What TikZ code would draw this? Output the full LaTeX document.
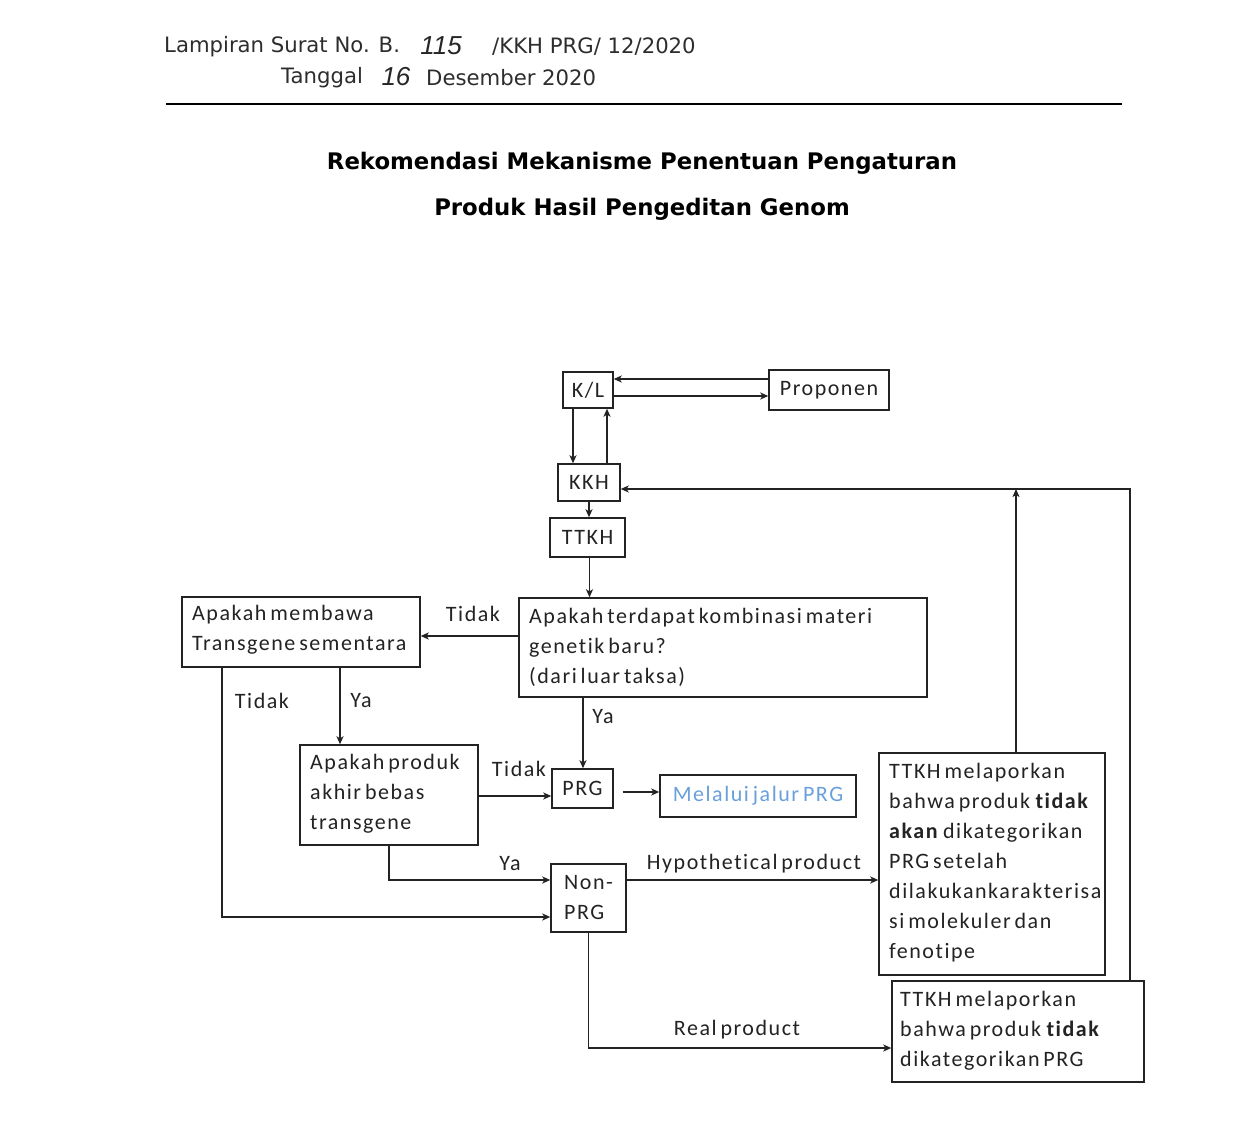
\documentclass[tikz,border=0pt]{standalone}
\usepackage{fontspec}
\setmainfont{Carlito}
\newfontfamily\diagf[LetterSpace=7,WordSpace=0.6,Ligatures=NoCommon]{Carlito}
\newfontfamily\hdrf{DejaVu Sans}
\newfontfamily\handf{Liberation Sans}
\usetikzlibrary{arrows.meta}
\definecolor{ink}{RGB}{35,35,35}
\definecolor{hdrink}{RGB}{45,45,45}
\definecolor{melblue}{RGB}{105,160,220}
\newcommand\dgfont{\diagf\fontsize{22}{30}\selectfont}
\newcommand\hdfont{\hdrf\fontsize{21.2}{25}\selectfont}
\newcommand\mytitlefont{\hdrf\bfseries\fontsize{22.8}{27}\selectfont}
\newcommand\handfont{\handf\itshape\fontsize{26}{30}\selectfont}
\begin{document}
\begin{tikzpicture}[x=1pt,y=-1pt,
  box/.style={draw=ink, line width=1.4pt, inner sep=0pt, font=\dgfont, text=ink},
  txt/.style={font=\dgfont, text=ink, inner sep=0pt, align=left, anchor=west},
  lbl/.style={font=\dgfont, text=ink, inner sep=0pt},
  conn/.style={draw=ink, line width=1.3pt, -{Stealth[length=8pt,width=7pt,inset=2pt]}},
  hdr/.style={font=\hdfont, text=hdrink, inner sep=0pt, anchor=west},
  hand/.style={font=\handfont, text=black!85, inner sep=0pt},
  ttl/.style={font=\mytitlefont, text=black, inner sep=0pt},
]
\useasboundingbox[fill=white] (0,0) rectangle (1254,1125);

% header
\node[hdr] (h1) at (164,47) {Lampiran Surat No. B.};
\node[hand] (h1n) at (441,46) {115};
\node[hdr] (h1b) at (492,47) {/KKH PRG/ 12/2020};
\node[hdr] (h2) at (281,78) {Tanggal};
\node[hand] (h2n) at (396,77) {16};
\node[hdr] (h2b) at (426,78) {Desember 2020};
\draw[black, line width=2.6pt] (166,104) -- (1122,104);

% title
\node[ttl] (t1) at (642,163) {Rekomendasi Mekanisme Penentuan Pengaturan};
\node[ttl] (t2) at (642,209) {Produk Hasil Pengeditan Genom};

% boxes
\node[box, minimum width=50, minimum height=36] (KL) at (588,390) {K/L};
\node[box, minimum width=120, minimum height=40] (Prop) at (829,390) {Proponen};
\node[box, minimum width=62, minimum height=37] (KKH) at (589,482.5) {KKH};
\node[box, minimum width=75, minimum height=39] (TTKH) at (587.5,537.5) {TTKH};

\node[box, minimum width=408, minimum height=99] (Q) at (723,647.5) {};
\node[txt] (Qt) at (529,647) {Apakah terdapat kombinasi materi\\genetik baru?\\(dari luar taksa)};

\node[box, minimum width=238, minimum height=70] (TR) at (301,632) {};
\node[txt] (TRt) at (192,630) {Apakah membawa\\Transgene sementara};

\node[box, minimum width=178, minimum height=100] (PD) at (389,795) {};
\node[txt] (PDt) at (310,794) {Apakah produk\\akhir bebas\\transgene};

\node[box, minimum width=61, minimum height=39] (PRG) at (582.5,788.5) {PRG};
\node[box, minimum width=196, minimum height=42, text=melblue] (MEL) at (758,796) {Melalui jalur PRG};

\node[box, minimum width=75, minimum height=68, align=left] (NP) at (588.5,898) {Non-\\PRG};

\node[box, minimum width=226, minimum height=222] (T1) at (992,864) {};
\node[txt] (T1t) at (889,863) {TTKH melaporkan\\bahwa produk \textbf{tidak}\\\textbf{akan} dikategorikan\\PRG setelah\\dilakukankarakterisa\\si molekuler dan\\fenotipe};

\node[box, minimum width=252, minimum height=101] (T2) at (1018,1031.5) {};
\node[txt] (T2t) at (900,1031) {TTKH melaporkan\\bahwa produk \textbf{tidak}\\dikategorikan PRG};

% connectors
\coordinate (klA) at ([yshift=-6pt]KL.east);
\draw[conn] (klA) -- (klA -| Prop.west);
\coordinate (prB) at ([yshift=11pt]Prop.west);
\draw[conn] (prB) -- (prB -| KL.east);
\coordinate (klD) at ([xshift=-15pt]KL.south);
\draw[conn] (klD) -- (klD |- KKH.north);
\coordinate (kkU) at ([xshift=18pt]KKH.north);
\draw[conn] (kkU) -- (kkU |- KL.south);
\draw[conn] (KKH.south) -- (KKH.south |- TTKH.north);
\coordinate (ttD) at ([xshift=2pt]TTKH.south);
\draw[conn] (ttD) -- (ttD |- Q.north);

\coordinate (qL) at ([yshift=11.5pt]Q.west);
\draw[conn] (qL) -- (qL -| TR.east);
\node[lbl] (lb1) at (473,614) {Tidak};

\coordinate (trT) at ([xshift=-79pt]TR.south);
\coordinate (npT) at ([yshift=-19pt]NP.west);
\draw[conn] (trT) |- (npT);
\node[lbl] (lb2) at (262,701) {Tidak};

\coordinate (trY) at ([xshift=39pt]TR.south);
\draw[conn] (trY) -- (trY |- PD.north);
\node[lbl] (lb3) at (361,701) {Ya};

\coordinate (qY) at ([xshift=-140pt]Q.south);
\draw[conn] (qY) -- (qY |- PRG.north);
\node[lbl] (lb4) at (603,717) {Ya};

\coordinate (pdT) at ([yshift=-1pt]PD.east);
\draw[conn] (pdT) -- (pdT -| PRG.west);
\node[lbl] (lb5) at (519,769) {Tidak};

\coordinate (prgM) at ([xshift=9pt,yshift=-3.5pt]PRG.east);
\draw[conn] (prgM) -- (prgM -| MEL.west);

\coordinate (npY) at ([yshift=18pt]NP.west);
\draw[conn] (PD.south) |- (npY);
\node[lbl] (lb6) at (510,864) {Ya};

\coordinate (npH) at ([yshift=18pt]NP.east);
\draw[conn] (npH) -- (npH -| T1.west);
\node[lbl] (lb7) at (754,864) {Hypothetical product};

\coordinate (kkIn) at ([yshift=-6.5pt]KKH.east);
\coordinate (t2R) at ([xshift=112pt]T2.north);
\draw[conn] (t2R) |- (kkIn);
\coordinate (t1U) at ([xshift=24pt]T1.north);
\draw[conn] (t1U) -- (t1U |- kkIn);

\coordinate (t2In) at ([yshift=-16.5pt]T2.west);
\draw[conn] (NP.south) |- (t2In);
\node[lbl] (lb8) at (737,1030) {Real product};
\end{tikzpicture}
\end{document}
